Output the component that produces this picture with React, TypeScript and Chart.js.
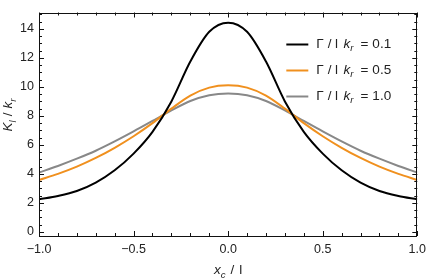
import React, { useEffect, useRef } from "react";
import { Chart, registerables } from "chart.js";

Chart.register(...registerables);

const xValues = [-1.0, -0.9, -0.8, -0.7, -0.6, -0.5, -0.4, -0.3, -0.2, -0.1, 0.0, 0.1, 0.2, 0.3, 0.4, 0.5, 0.6, 0.7, 0.8, 0.9, 1.0];
const gamma01 = [2.25, 2.48, 2.82, 3.4, 4.25, 5.4, 6.9, 9.0, 11.75, 13.8, 14.43, 13.8, 11.75, 9.0, 6.9, 5.4, 4.25, 3.4, 2.82, 2.48, 2.25];
const gamma05 = [3.58, 4.0, 4.5, 5.1, 5.8, 6.6, 7.5, 8.5, 9.4, 9.95, 10.11, 9.95, 9.4, 8.5, 7.5, 6.6, 5.8, 5.1, 4.5, 4.0, 3.58];
const gamma10 = [4.1, 4.55, 5.05, 5.6, 6.24, 6.93, 7.65, 8.38, 9.03, 9.43, 9.55, 9.43, 9.03, 8.38, 7.65, 6.93, 6.24, 5.6, 5.05, 4.55, 4.1];
const seriesNames = ["0.1", "0.5", "1.0"];
const seriesColors = ["#000000", "#f0901e", "#888888"];

const xMajorTicks = [-1.0, -0.5, 0.0, 0.5, 1.0];
const yMajorTicks = [0, 2, 4, 6, 8, 10, 12, 14];

const FONT = "'Liberation Sans', Arial, sans-serif";

type Part = { t: string; italic?: boolean; sub?: boolean; dx?: number };

function drawRich(ctx: CanvasRenderingContext2D, parts: Part[], x: number, y: number, size: number, measureOnly = false): number {
  let cx = x;
  for (const p of parts) {
    const sz = p.sub ? size * 0.72 : size;
    ctx.font = `${p.italic ? "italic " : ""}${sz}px ${FONT}`;
    cx += p.dx || 0;
    if (!measureOnly) ctx.fillText(p.t, cx, y + (p.sub ? size * 0.28 : 0));
    cx += ctx.measureText(p.t).width;
  }
  return cx - x;
}

const framePlugin = {
  id: "frameTicks",
  afterDraw(chart: any) {
    const ctx: CanvasRenderingContext2D = chart.ctx;
    const { left, right, top, bottom } = chart.chartArea;
    const xs = chart.scales.x;
    const ys = chart.scales.y;
    ctx.save();
    ctx.strokeStyle = "#111";
    ctx.lineWidth = 1;
    ctx.strokeRect(Math.round(left) + 0.5, Math.round(top) + 0.5, Math.round(right - left) - 1, Math.round(bottom - top) - 1);
    ctx.beginPath();
    for (let i = -10; i <= 10; i++) {
      const v = i / 10;
      const major = i % 5 === 0;
      const len = major ? 5 : 3;
      const px = Math.round(xs.getPixelForValue(v)) + 0.5;
      ctx.moveTo(px, bottom);
      ctx.lineTo(px, bottom - len);
      ctx.moveTo(px, top);
      ctx.lineTo(px, top + len);
    }
    for (let i = 0; i <= 30; i++) {
      const v = i / 2;
      const major = i % 4 === 0;
      const len = major ? 5 : 3;
      const py = Math.round(ys.getPixelForValue(v)) + 0.5;
      ctx.moveTo(left, py);
      ctx.lineTo(left + len, py);
      ctx.moveTo(right, py);
      ctx.lineTo(right - len, py);
    }
    ctx.stroke();

    // legend
    ctx.fillStyle = "#222";
    ctx.textBaseline = "middle";
    ctx.textAlign = "left";
    chart.data.datasets.forEach((ds: any, i: number) => {
      const y = top + 32 + i * 26;
      ctx.strokeStyle = ds.borderColor;
      ctx.lineWidth = 2;
      ctx.beginPath();
      ctx.moveTo(right - 131, y);
      ctx.lineTo(right - 109, y);
      ctx.stroke();
      const parts: Part[] = [
        { t: "Γ" },
        { t: "/", dx: 4 },
        { t: "l", dx: 3.5 },
        { t: "k", italic: true, dx: 5.5 },
        { t: "r", italic: true, sub: true },
        { t: "=", dx: 7 },
        { t: ds.name, dx: 4 },
      ];
      drawRich(ctx, parts, right - 101, y, 13.5);
    });

    // axis titles
    ctx.fillStyle = "#222";
    ctx.textBaseline = "alphabetic";
    const xt: Part[] = [
      { t: "x", italic: true },
      { t: "c", italic: true, sub: true },
      { t: "/", dx: 5 },
      { t: "l", dx: 5 },
    ];
    const xw = drawRich(ctx, xt, 0, 0, 13.5, true);
    drawRich(ctx, xt, (left + right) / 2 - xw / 2, 274, 13.5);

    const yt: Part[] = [
      { t: "K", italic: true },
      { t: "l", italic: true, sub: true },
      { t: "/", dx: 4 },
      { t: "k", italic: true, dx: 4 },
      { t: "r", italic: true, sub: true },
    ];
    const yw = drawRich(ctx, yt, 0, 0, 13.5, true);
    ctx.translate(12, 115);
    ctx.rotate(-Math.PI / 2);
    drawRich(ctx, yt, -yw / 2, 0, 13.5);
    ctx.restore();
  },
};

export default function App() {
  const ref = useRef<HTMLCanvasElement>(null);
  useEffect(() => {
    if (!ref.current) return;
    const series = [gamma01, gamma05, gamma10];
    const chart = new Chart(ref.current, {
      type: "line",
      data: {
        datasets: series.map((arr, i) => ({
          label: seriesNames[i],
          name: seriesNames[i],
          data: xValues.map((x, j) => ({ x, y: arr[j] })),
          borderColor: seriesColors[i],
          borderWidth: 2,
          pointRadius: 0,
          cubicInterpolationMode: "monotone",
          fill: false,
        })) as any,
      },
      options: {
        animation: false,
        responsive: false,
        layout: { padding: { top: 2, right: 11, left: 0, bottom: 0 } },
        plugins: { legend: { display: false }, tooltip: { enabled: false } },
        scales: {
          x: {
            type: "linear",
            min: -1,
            max: 1,
            grid: { display: false, drawTicks: false },
            border: { display: false },
            afterFit: (s: any) => { s.height = 43; },
            afterBuildTicks: (s: any) => { s.ticks = xMajorTicks.map((v) => ({ value: v })); },
            ticks: {
              padding: 6,
              maxRotation: 0,
              autoSkip: false,
              color: "#222",
              font: { family: FONT, size: 12.5 },
              callback: (v: any) => (Number(v) < 0 ? "\u2212" + Math.abs(Number(v)).toFixed(1) : Number(v).toFixed(1)),
            },
          },
          y: {
            type: "linear",
            min: -0.28,
            max: 15.13,
            grid: { display: false, drawTicks: false },
            border: { display: false },
            afterFit: (s: any) => { s.width = 39; },
            afterBuildTicks: (s: any) => { s.ticks = yMajorTicks.map((v) => ({ value: v })); },
            ticks: {
              padding: 5,
              autoSkip: false,
              color: "#222",
              font: { family: FONT, size: 12.5 },
              callback: (v: any) => String(v),
            },
          },
        },
      } as any,
      plugins: [framePlugin],
    });
    return () => chart.destroy();
  }, []);
  return (
    <div style={{ position: "fixed", left: 0, top: 0, width: 432, height: 279, background: "#fff" }}>
      <canvas ref={ref} width={432} height={279} style={{ display: "block" }} />
    </div>
  );
}
